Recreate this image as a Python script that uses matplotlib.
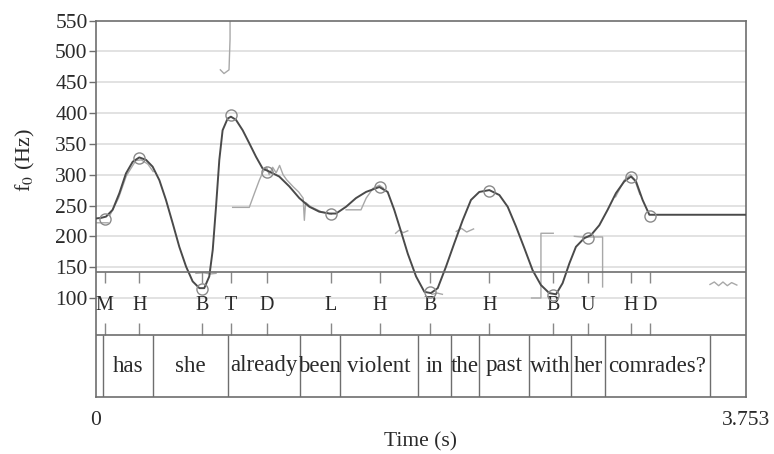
import numpy as np
import matplotlib.pyplot as plt

plt.rcParams['font.family'] = ['Liberation Serif', 'DejaVu Serif']
plt.rcParams['mathtext.fontset'] = 'stix'

t_end = 3.753

# smooth f0 curve (s, Hz)
curve_t = [0.000, 0.030, 0.058, 0.096, 0.135, 0.173, 0.212, 0.250, 0.289, 0.327,
           0.366, 0.404, 0.443, 0.481, 0.520, 0.558, 0.597, 0.625, 0.654, 0.674,
           0.693, 0.712, 0.731, 0.760, 0.779, 0.808, 0.847, 0.885, 0.924, 0.962,
           1.001, 1.058, 1.116, 1.174, 1.232, 1.289, 1.347, 1.386, 1.444, 1.501,
           1.559, 1.636, 1.684, 1.722, 1.761, 1.800, 1.848, 1.896, 1.934, 1.973,
           2.021, 2.069, 2.117, 2.165, 2.213, 2.271, 2.329, 2.377, 2.425, 2.473,
           2.521, 2.569, 2.617, 2.656, 2.694, 2.733, 2.771, 2.819, 2.858, 2.906,
           2.954, 3.002, 3.050, 3.089, 3.118, 3.156, 3.195, 3.753]
curve_hz = [229, 230, 232, 243, 270, 302, 321, 328, 324, 313,
            291, 259, 221, 183, 151, 127, 116, 116, 135, 178,
            248, 324, 372, 391, 394, 389, 372, 351, 329, 310,
            305, 297, 281, 262, 248, 240, 237, 237, 248, 262,
            272, 280, 272, 243, 208, 172, 135, 110, 108, 116,
            151, 189, 226, 259, 272, 275, 267, 248, 216, 181,
            145, 121, 108, 106, 124, 156, 183, 197, 202, 218,
            243, 270, 289, 297, 289, 259, 235, 235]

# tonal targets and their labels
tone_t = [0.050, 0.250, 0.612, 0.779, 0.987, 1.357, 1.638, 1.930, 2.271, 2.637,
          2.839, 3.089, 3.199]
tone_hz = [228, 327, 114, 396, 305, 237, 280, 109, 274, 105, 198, 297, 233]
tone_labels = ['M', 'H', 'B', 'T', 'D', 'L', 'H', 'B', 'H', 'B', 'U', 'H', 'D']

# raw f0 track, pieces split by nan
raw_t = [0.000, 0.070, np.nan,
         0.080, 0.130, 0.175, 0.230, 0.262, 0.300, 0.330, np.nan,
         0.577, 0.620, 0.660, 0.693, np.nan,
         0.718, 0.739, 0.768, 0.774, 0.774, np.nan,
         0.789, 0.885, 0.915, 0.943, 0.965, 0.985, 1.000, 1.020, 1.040, 1.060,
         1.080, 1.100, 1.140, 1.170, 1.196, 1.203, 1.210, 1.240, 1.300, 1.360, np.nan,
         1.444, 1.530, 1.560, 1.600, 1.636, 1.660, np.nan,
         1.730, 1.750, 1.775, 1.800, np.nan,
         1.940, 1.970, 2.000, np.nan,
         2.080, 2.110, 2.140, 2.180, np.nan,
         2.515, 2.569, 2.569, 2.640, np.nan,
         2.762, 2.800, 2.925, 2.925, np.nan,
         3.000, 3.050, 3.085, 3.110, 3.140, np.nan,
         3.545, 3.570, 3.595, 3.620, 3.645, 3.670, 3.700]
raw_hz = [222, 222, np.nan,
          234, 262, 298, 323, 324, 317, 305, np.nan,
          140, 141, 139, 140, np.nan,
          470, 464, 470, 520, 600, np.nan,
          247, 247, 270, 291, 305, 312, 300, 312, 303, 315,
          300, 292, 280, 272, 262, 226, 255, 248, 240, 236, np.nan,
          243, 243, 262, 278, 283, 278, np.nan,
          205, 210, 206, 209, np.nan,
          106, 108, 106, np.nan,
          208, 213, 207, 212, np.nan,
          100, 100, 205, 205, np.nan,
          200, 199, 199, 118, np.nan,
          264, 291, 300, 292, 268, np.nan,
          122, 126, 120, 126, 120, 125, 121]

# word tier
word_bounds = [0.0, 0.042, 0.331, 0.760, 1.178, 1.409, 1.861, 2.048, 2.211,
               2.500, 2.742, 2.940, 3.544, 3.753]
words = ['', 'has', 'she', 'already', 'been', 'violent', 'in', 'the', 'past',
         'with', 'her', 'comrades?', '']

y_ticks = [100, 150, 200, 250, 300, 350, 400, 450, 500, 550]

frame_col = '#6e6e6e'
text_col = '#2a2a2a'

fig = plt.figure(figsize=(7.74, 4.54), dpi=100)
ax = fig.add_axes([96/774, 57/454, 650/774, 376.5/454])

ax.set_xlim(0, t_end)
ax.set_ylim(-60.5, 550)

# light grid
for v in y_ticks[:-1]:
    ax.axhline(v, color='#e2e2e2', lw=1.4, zorder=0)

# raw track, then the smooth curve with targets
ax.plot(raw_t, raw_hz, color='#a8a8a8', lw=1.0, zorder=2)
ax.plot(curve_t, curve_hz, color='#4a4a4a', lw=1.4, zorder=3)
ax.plot(tone_t, tone_hz, 'o', ms=8, mfc='none', mec='#8a8a8a', mew=1.0, zorder=4)

# tiers (y in axes fraction)
trans = ax.get_xaxis_transform()
tier_top = 125/376.5
tier_mid = 62/376.5
ax.axhline(142.2, color=frame_col, lw=1.2, zorder=5)
ax.plot([0, t_end], [tier_mid, tier_mid], transform=trans, color=frame_col, lw=1.2, zorder=5)

ax.vlines(tone_t, tier_top - 0.028, tier_top, transform=trans, color='#888888', lw=1.0)
ax.vlines(tone_t, tier_mid, tier_mid + 0.032, transform=trans, color='#888888', lw=1.0)
for t, lab in zip(tone_t, tone_labels):
    ax.text(t, (tier_top + tier_mid) / 2 - 0.005, lab, transform=trans, ha='center', va='center',
            fontsize=14.5, color=text_col)

ax.vlines(word_bounds[1:-1], 0, tier_mid, transform=trans, color=frame_col, lw=1.0)
for i, w in enumerate(words):
    if w:
        ax.text((word_bounds[i] + word_bounds[i + 1]) / 2, tier_mid / 2, w, transform=trans,
                ha='center', va='center', fontsize=16.5, color=text_col)

# axes cosmetics
for s in ax.spines.values():
    s.set_color(frame_col)
    s.set_linewidth(1.2)

ax.set_yticks(y_ticks)
ax.set_yticklabels([str(v) for v in y_ticks])
ax.tick_params(axis='y', direction='out', length=5, width=1.0, color=frame_col,
               labelsize=15.5, labelcolor=text_col, pad=1)

ax.set_xticks([0, t_end])
ax.set_xticklabels(['0', '3.753'])
ax.tick_params(axis='x', length=0, labelsize=15.5, labelcolor=text_col, pad=10)
ax.set_xlabel('Time (s)', fontsize=15.5, color=text_col, labelpad=2)

fig.text(25/774, 1 - 160/454, r'f$_0$ (Hz)', rotation=90, ha='center', va='center',
         fontsize=16, color=text_col)

fig.savefig('out.png', dpi=100)
